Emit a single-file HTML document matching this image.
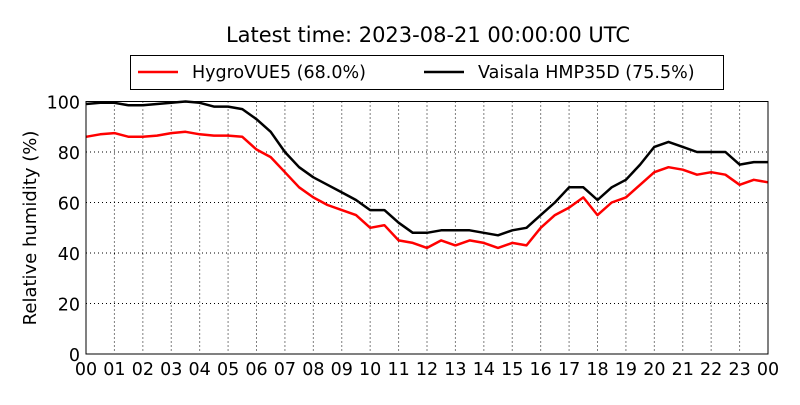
<!DOCTYPE html>
<html><head><meta charset="utf-8"><style>
body{margin:0;background:#fff;}
svg text{font-family:"DejaVu Sans","Liberation Sans",sans-serif;fill:#000;}
</style></head><body>
<svg id="chart" width="800" height="400">
<text x="428" y="42" font-size="21" text-anchor="middle">Latest time: 2023-08-21 00:00:00 UTC</text>
<g id="grid"></g>
<g id="series"></g>
<rect x="86" y="101.5" width="682" height="252.5" fill="none" stroke="#000" stroke-width="1"/>
<g id="axes"></g>
<text transform="translate(36,228) rotate(-90)" font-size="18" text-anchor="middle">Relative humidity (%)</text>
<g>
<rect x="130.5" y="55.5" width="593" height="34" fill="#fff" stroke="#000" stroke-width="1"/>
<g><line x1="138" y1="72" x2="178" y2="72" stroke="#f00" stroke-width="2.5"/><text x="192" y="78" font-size="17.5">HygroVUE5 (68.0%)</text></g>
<g><line x1="424" y1="72" x2="464" y2="72" stroke="#000" stroke-width="2.5"/><text x="478" y="78" font-size="17.5">Vaisala HMP35D (75.5%)</text></g>
</g>
</svg>
<script>
const hours = [0,0.5,1,1.5,2,2.5,3,3.5,4,4.5,5,5.5,6,6.5,7,7.5,8,8.5,9,9.5,10,10.5,11,11.5,12,12.5,13,13.5,14,14.5,15,15.5,16,16.5,17,17.5,18,18.5,19,19.5,20,20.5,21,21.5,22,22.5,23,23.5,24];
const hygrovue = [86,87,87.5,86,86,86.5,87.5,88,87,86.5,86.5,86,81,78,72,66,62,59,57,55,50,51,45,44,42,45,43,45,44,42,44,43,50,55,58,62,55,60,62,67,72,74,73,71,72,71,67,69,68];
const vaisala = [99,99.5,99.5,98.5,98.5,99,99.5,100,99.5,98,98,97,93,88,80,74,70,67,64,61,57,57,52,48,48,49,49,49,48,47,49,50,55,60,66,66,61,66,69,75,82,84,82,80,80,80,75,76,76];
const yTicks = [0,20,40,60,80,100];
const xTickLabels = ["00","01","02","03","04","05","06","07","08","09","10","11","12","13","14","15","16","17","18","19","20","21","22","23","00"];
const X0=86,X1=768,Y0=354,Y1=101.5;
function xs(h){return X0+(X1-X0)*h/24;}
function ys(v){return Y0-(Y0-Y1)*v/100;}
const NS="http://www.w3.org/2000/svg";
const grid=document.getElementById('grid'),axes=document.getElementById('axes'),series=document.getElementById('series');
function mk(t,a,p){const e=document.createElementNS(NS,t);for(const k in a)e.setAttribute(k,a[k]);p.appendChild(e);return e;}
yTicks.forEach(v=>{
  const y=ys(v);
  const g=mk('line',{x1:X0,x2:X1,y1:y,y2:y,stroke:'#000','stroke-width':1,'stroke-dasharray':'1,3'},grid);
  
  
  const t=mk('text',{x:X0-6,y:y+7,'font-size':17.5,'text-anchor':'end'},axes);
  t.textContent=v;
  
  
});
xTickLabels.forEach((lab,i)=>{
  const x=xs(i);
  const g=mk('line',{x1:x,x2:x,y1:Y1,y2:Y0,stroke:'#000','stroke-width':1,'stroke-dasharray':'1,3'},grid);
  
  
  const t=mk('text',{x:x,y:375,'font-size':17.5,'text-anchor':'middle'},axes);
  t.textContent=lab;
  
  
});
function draw(vals,color,name){
  const pts=vals.map((v,i)=>xs(hours[i]).toFixed(1)+','+ys(v).toFixed(1)).join(' ');
  const p=mk('polyline',{points:pts,fill:'none',stroke:color,'stroke-width':2.5,'stroke-linejoin':'round'},series);
  
  
}
draw(hygrovue,'#f00','hygrovue5-line');
draw(vaisala,'#000','vaisala-line');
</script>
</body></html>
